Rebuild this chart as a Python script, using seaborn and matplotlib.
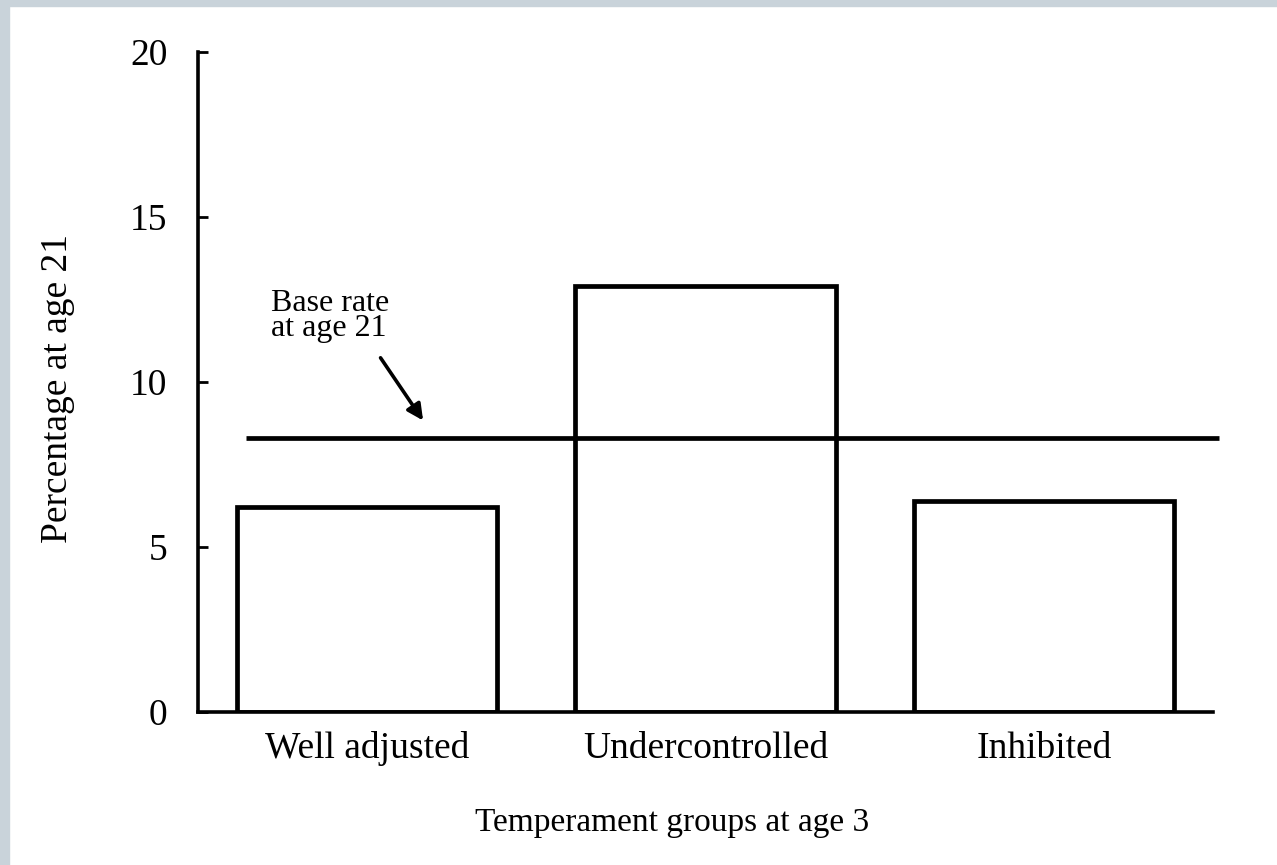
import numpy as np
import pandas as pd
import seaborn as sns
import matplotlib.pyplot as plt
from matplotlib.patches import Rectangle

# values
groups = ['Well adjusted', 'Undercontrolled', 'Inhibited']
percent = [6.2, 12.9, 6.4]
base_rate = 8.3
y_ticks = [0, 5, 10, 15, 20]

df = pd.DataFrame({'group': groups, 'percent': percent})

sns.set_theme(style="ticks")
plt.rcParams['font.family'] = ['Liberation Serif', 'DejaVu Serif']

fig = plt.figure(figsize=(12.77, 8.65), dpi=100)
ax = fig.add_axes([0.155, 0.177, 0.795, 0.763])

sns.barplot(data=df, x='group', y='percent', ax=ax, color='white',
            edgecolor='black', linewidth=3.4, width=0.77, saturation=1)

ax.set_xlim(-0.5, 2.5)
ax.set_ylim(0, 20)
ax.set_yticks(y_ticks)
ax.set_yticklabels([str(t) for t in y_ticks])

# base rate line and its note
ax.hlines(base_rate, -0.358, 2.518, color='black', linewidth=3.4, clip_on=False, zorder=5)
ax.annotate('', xy=(0.17, 8.76), xytext=(0.035, 10.8),
            arrowprops=dict(arrowstyle='-|>', color='black', lw=2.6, mutation_scale=24))
ax.text(-0.285, 12.8, 'Base rate\nat age 21', fontsize=23, va='top', ha='left',
        linespacing=0.8, color='black')

sns.despine(ax=ax)
for side in ['left', 'bottom']:
    ax.spines[side].set_linewidth(2.6)
    ax.spines[side].set_color('black')

ax.tick_params(axis='y', direction='in', length=7, width=2, pad=22, labelsize=27, colors='black')
ax.tick_params(axis='x', length=0, pad=14, labelsize=27, colors='black')

ax.set_xlabel('Temperament groups at age 3', fontsize=24, color='black')
ax.xaxis.set_label_coords(0.467, -0.145)
ax.set_ylabel('Percentage at age 21', fontsize=27, color='black')
ax.yaxis.set_label_coords(-0.121, 0.49)

# gray scan border on top and left
fig.patches.append(Rectangle((0, 1 - 6 / 865), 1, 6 / 865, transform=fig.transFigure,
                             color='#c9d3da', zorder=0))
fig.patches.append(Rectangle((0, 0), 9 / 1277, 1, transform=fig.transFigure,
                             color='#c9d3da', zorder=0))

fig.savefig('out.png', dpi=100, facecolor='white')
